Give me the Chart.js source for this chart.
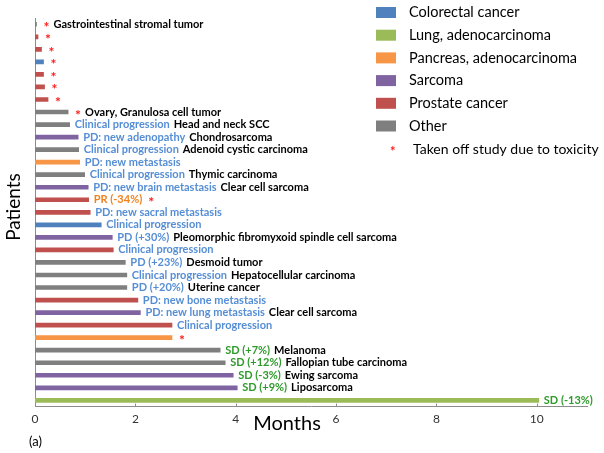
<!DOCTYPE html>
<html>
<head>
<meta charset="utf-8">
<script src="https://cdn.jsdelivr.net/npm/chart.js@4.4.0/dist/chart.umd.min.js"></script>
<style>
  body { margin: 0; background: #fff; }
</style>
</head>
<body>
<canvas id="swimmer" width="604" height="453"></canvas>
<script>
// time on study per patient, top row first
const months = [0.03, 0.06, 0.13, 0.17, 0.17, 0.19, 0.26, 0.66, 0.69, 0.86, 0.87, 0.89, 0.99, 1.06, 1.07, 1.10,
  1.32, 1.54, 1.56, 1.80, 1.83, 1.83, 2.05, 2.10, 2.73, 2.73, 3.69, 3.79, 3.95, 4.03, 10.04];

const groups = ['Other', 'Prostate cancer', 'Prostate cancer', 'Colorectal cancer', 'Prostate cancer', 'Prostate cancer',
  'Prostate cancer', 'Other', 'Other', 'Sarcoma', 'Other', 'Pancreas, adenocarcinoma', 'Other', 'Sarcoma',
  'Prostate cancer', 'Prostate cancer', 'Colorectal cancer', 'Sarcoma', 'Prostate cancer', 'Other', 'Other', 'Other',
  'Prostate cancer', 'Sarcoma', 'Prostate cancer', 'Pancreas, adenocarcinoma', 'Other', 'Other', 'Sarcoma', 'Sarcoma',
  'Lung, adenocarcinoma'];

const responses = ['', '', '', '', '', '', '', '', 'Clinical progression', 'PD: new adenopathy', 'Clinical progression',
  'PD: new metastasis', 'Clinical progression', 'PD: new brain metastasis', 'PR (-34%)', 'PD: new sacral metastasis',
  'Clinical progression', 'PD (+30%)', 'Clinical progression', 'PD (+23%)', 'Clinical progression', 'PD (+20%)',
  'PD: new bone metastasis', 'PD: new lung metastasis', 'Clinical progression', '', 'SD (+7%)', 'SD (+12%)',
  'SD (-3%)', 'SD (+9%)', 'SD (-13%)'];

const tumours = ['Gastrointestinal stromal tumor', '', '', '', '', '', '', 'Ovary, Granulosa cell tumor', 'Head and neck SCC',
  'Chondrosarcoma', 'Adenoid cystic carcinoma', '', 'Thymic carcinoma', 'Clear cell sarcoma', '', '', '',
  'Pleomorphic fibromyxoid spindle cell sarcoma', '', 'Desmoid tumor', 'Hepatocellular carcinoma', 'Uterine cancer', '',
  'Clear cell sarcoma', '', '', 'Melanoma', 'Fallopian tube carcinoma', 'Ewing sarcoma', 'Liposarcoma', ''];

// taken off study due to toxicity
const offStudy = [true, true, true, true, true, true, true, true, false, false, false, false, false, false, true, false,
  false, false, false, false, false, false, false, false, false, true, false, false, false, false, false];

const patients = months.map((_, i) => 'Patient ' + (i + 1));
const legendGroups = ['Colorectal cancer', 'Lung, adenocarcinoma', 'Pancreas, adenocarcinoma', 'Sarcoma', 'Prostate cancer', 'Other'];

const colours = {
  'Colorectal cancer': '#4f81bd',
  'Lung, adenocarcinoma': '#9bbb59',
  'Pancreas, adenocarcinoma': '#f79646',
  'Sarcoma': '#8064a2',
  'Prostate cancer': '#c0504d',
  'Other': '#7f7f7f'
};

const FONT = 'Lato, "DejaVu Sans", sans-serif';

function responseColour(r) {
  if (r.startsWith('SD')) return '#2e9a2a';
  if (r.startsWith('PR')) return '#f0821e';
  return '#558ed5';
}

const annotations = {
  id: 'annotations',
  afterDatasetsDraw(chart) {
    const { ctx, scales: { x, y } } = chart;
    ctx.save();
    ctx.textBaseline = 'middle';

    // small inward ticks on the x axis
    ctx.strokeStyle = '#8c8c8c';
    ctx.lineWidth = 1;
    x.ticks.forEach(t => {
      const px = Math.round(x.getPixelForValue(t.value)) + 0.5;
      ctx.beginPath();
      ctx.moveTo(px, chart.chartArea.bottom);
      ctx.lineTo(px, chart.chartArea.bottom - 3);
      ctx.stroke();
    });

    months.forEach((m, i) => {
      let px = x.getPixelForValue(m) + 5;
      const py = y.getPixelForValue(i);
      const parts = [];
      if (responses[i]) parts.push([responses[i], responseColour(responses[i]), 'bold 11px ' + FONT, 0]);
      if (offStudy[i]) parts.push(['*', '#ff1a1a', 'bold 14px ' + FONT, 3]);
      if (tumours[i]) parts.push([tumours[i], '#000', 'bold 11px ' + FONT, 0]);
      parts.forEach(([t, c, f, dy]) => {
        ctx.font = f;
        ctx.fillStyle = c;
        if (t === '*') px += 2;
        ctx.fillText(t, px, py + dy);
        px += ctx.measureText(t).width + 4;
      });
    });
    ctx.restore();
  },
  afterDraw(chart) {
    const { ctx } = chart;
    ctx.save();
    ctx.textBaseline = 'middle';
    ctx.font = '14.5px ' + FONT;
    legendGroups.forEach((g, i) => {
      const ly = 12.5 + i * 22.7;
      ctx.fillStyle = colours[g];
      ctx.fillRect(376, ly - 5.5, 20, 11);
      ctx.fillStyle = '#000';
      ctx.fillText(g, 409, ly);
    });
    ctx.fillStyle = '#ff1a1a';
    ctx.font = 'bold 13px ' + FONT;
    ctx.fillText('*', 390, 152);
    ctx.fillStyle = '#000';
    ctx.font = '14px ' + FONT;
    ctx.fillText('Taken off study due to toxicity', 413, 149);

    // axis titles and panel letter
    ctx.font = '20px ' + FONT;
    ctx.textAlign = 'center';
    ctx.fillText('Months', 287, 424);
    ctx.save();
    ctx.translate(14, 207);
    ctx.rotate(-Math.PI / 2);
    ctx.font = '19px ' + FONT;
    ctx.fillText('Patients', 0, 0);
    ctx.restore();
    ctx.textAlign = 'left';
    ctx.font = '13px ' + FONT;
    ctx.fillText('(a)', 29, 442);
    ctx.restore();
  }
};

new Chart(document.getElementById('swimmer').getContext('2d'), {
  type: 'bar',
  data: {
    labels: patients,
    datasets: [{
      data: months,
      backgroundColor: groups.map(g => colours[g]),
      barThickness: 4
    }]
  },
  options: {
    indexAxis: 'y',
    responsive: false,
    animation: false,
    layout: { padding: { left: 35, right: 17, top: 18, bottom: 22 } },
    plugins: {
      legend: { display: false },
      tooltip: { enabled: false }
    },
    scales: {
      x: {
        min: 0,
        max: 11,
        grid: { display: false, drawTicks: false },
        border: { display: true, color: '#8c8c8c' },
        ticks: { stepSize: 2, includeBounds: false, padding: 5, color: '#333', font: { family: FONT, size: 12 } }
      },
      y: {
        grid: { display: false, drawTicks: false },
        border: { display: true, color: '#8c8c8c' },
        ticks: { display: false }
      }
    }
  },
  plugins: [annotations]
});
</script>
</body>
</html>
